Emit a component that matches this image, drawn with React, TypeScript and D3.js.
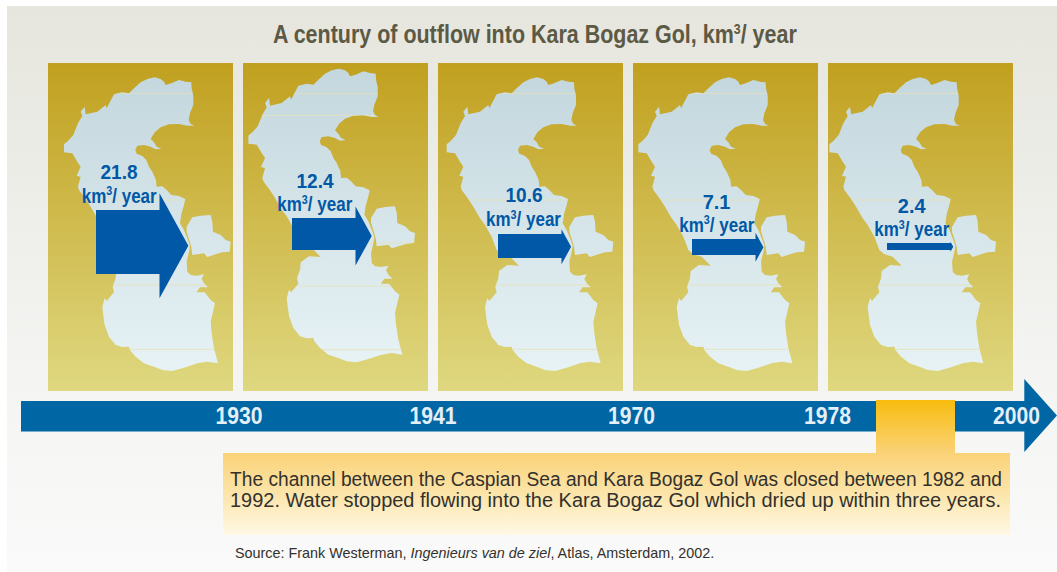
import React from 'react';
import * as d3 from 'd3';

const W = 1057;
const H = 572;

// chart data
const periods = ['1930', '1941', '1970', '1978', '2000'];
const outflow = [21.8, 12.4, 10.6, 7.1, 2.4];
const titleText = 'A century of outflow into Kara Bogaz Gol, km';
const unitText = '/ year';
const noteLines = [
  'The channel between the Caspian Sea and Kara Bogaz Gol was closed between 1982 and',
  '1992. Water stopped flowing into the Kara Bogaz Gol which dried up within three years.',
];
const sourceParts = ['Source: Frank Westerman, ', 'Ingenieurs van de ziel', ', Atlas, Amsterdam, 2002.'];

// arrow size against outflow
const thickness = d3.scaleLinear().domain([2.4, 7.1, 10.6, 12.4, 21.8]).range([7, 16, 24, 32, 64]);
const headSpan = d3.scaleLinear().domain([2.4, 7.1, 10.6, 12.4, 21.8]).range([10, 29, 35, 59, 105]);

const panelX = d3.scaleBand().domain(periods).range([48, 1013]).paddingInner(10 / 195);
const yearX = d3.scaleOrdinal<string, number>().domain(periods).range([239, 433, 631.5, 827.5, 1016.5]);

// per panel placement, relative to panel left / absolute y
const mapShift = [[7.3, 0], [-3.3, -8.7], [0, 0], [-3.3, 0], [-7.3, 0]];
const arrowStart = [48, 49, 60, 59, 59];
const arrowY = [242, 234, 246, 247, 246.5];
const headY = [245.7, 236, 246.8, 247.2, 246.7];
const valueX = [71, 72, 86, 83.5, 83.7];
const valueBase = [179, 188.3, 202.3, 209, 212.7];
const unitX = [33.7, 34.3, 48, 46.3, 46.3];
const unitBase = [202.7, 211, 226, 231.7, 236];
const seaLines = [
  [115, 435, 690, 883],
  [116, 181, 564, 693, 884],
  [115, 435, 690, 883],
  [115, 435, 690, 883],
  [115, 435, 690, 883],
];

// outline traced at 3x, panel 3
const caspian: [number, number][] = [
  [280,82],[300,72],[322,67],[340,72],[350,80],[355,90],[372,85],[395,75],[415,80],[432,82],[433,100],[438,122],[438,150],[428,175],[424,195],[430,207],[441,212],[420,212],[395,207],[365,208],[340,217],[322,232],[310,252],[320,262],[328,275],[342,281],[325,283],[310,275],[290,270],[270,272],[264,285],[268,296],[285,303],[297,315],[305,335],[315,350],[326,375],[328,395],[345,394],[358,405],[372,420],[395,423],[414,432],[410,450],[402,478],[398,505],[410,525],[420,550],[428,572],[425,590],[418,620],[420,650],[430,660],[448,662],[470,658],[463,672],[470,685],[482,697],[458,697],[447,712],[472,712],[490,735],[503,745],[497,770],[490,800],[493,835],[500,880],[512,925],[480,920],[450,925],[410,938],[375,948],[345,945],[320,935],[290,925],[265,905],[248,885],[245,875],[225,876],[205,870],[185,845],[172,810],[168,780],[165,755],[172,730],[178,738],[200,712],[196,695],[205,670],[207,648],[232,630],[267,632],[255,620],[240,605],[215,598],[200,585],[185,545],[165,510],[150,490],[130,455],[115,432],[95,405],[92,395],[100,365],[88,362],[100,335],[90,320],[75,295],[50,292],[50,268],[62,258],[78,240],[92,205],[105,183],[100,170],[112,155],[115,178],[150,170],[175,150],[178,160],[200,118],[225,112],[245,115],[260,100],
];
const karaBogaz: [number, number][] = [
  [418,515],[435,487],[460,482],[490,480],[495,500],[497,530],[520,540],[535,555],[550,560],[547,590],[525,592],[505,598],[480,606],[470,595],[435,600],[432,575],[426,555],[418,530],
];

const outline = d3.line().x(d => (d[0] - 24) / 3).y(d => (d[1] - 24) / 3);
const seaPath = outline(caspian) + 'Z' + outline(karaBogaz) + 'Z';

const panelTop = 63;
const panelH = 328;

const labelFont = '"Liberation Sans", Arial, sans-serif';

// the originals are condensed type, so text gets squeezed to its measured width
const ctx = document.createElement('canvas').getContext('2d')!;
function textWidth(s: string, size: number, style = 'bold') {
  ctx.font = `${style} ${size}px ${labelFont}`;
  return ctx.measureText(s).width;
}

const unitSqueeze = 75 / (textWidth('km', 20.5) + textWidth('3', 13) + textWidth(unitText, 20.5));
const titleSqueeze = 525 / (textWidth(titleText, 26) + textWidth('3', 15) + textWidth(unitText, 26));
const sourceSqueeze = 481 / (textWidth(sourceParts[0], 14, 'normal') + textWidth(sourceParts[1], 14, 'italic') + textWidth(sourceParts[2], 14, 'normal'));

function Panel({ period, i }: { period: string; i: number }) {
  const x0 = panelX(period)!;
  const v = outflow[i];
  const [dx, dy] = mapShift[i];
  const t = thickness(v);
  const span = headSpan(v);
  const cy = arrowY[i];
  const hy = headY[i];
  const sx = x0 + arrowStart[i];
  const neck = sx + 63.5;
  const tip = neck + span * 0.275;
  const arrow = d3.path();
  arrow.moveTo(sx, cy - t / 2);
  arrow.lineTo(neck, cy - t / 2);
  arrow.lineTo(neck, hy - span / 2);
  arrow.lineTo(tip, hy);
  arrow.lineTo(neck, hy + span / 2);
  arrow.lineTo(neck, cy + t / 2);
  arrow.lineTo(sx, cy + t / 2);
  arrow.closePath();

  return (
    <g>
      <rect x={x0} y={panelTop} width={panelX.bandwidth()} height={panelH} fill="url(#land)" />
      <clipPath id={`sea${i}`}>
        <path d={seaPath} transform={`translate(${x0 + dx},${panelTop + dy})`} />
      </clipPath>
      <path d={seaPath} transform={`translate(${x0 + dx},${panelTop + dy})`} fill="url(#water)" />
      <g clipPath={`url(#sea${i})`}>
        {seaLines[i].map(l => {
          const y = 55 + l / 3;
          return <line key={l} x1={x0} x2={x0 + 185} y1={y} y2={y} stroke="#e6e2b4" strokeWidth={0.8} />;
        })}
      </g>
      <path d={arrow.toString()} fill="#0058a6" />
      <text x={x0 + valueX[i]} y={valueBase[i]} textAnchor="middle" textLength={String(v).length * 9.25} lengthAdjust="spacingAndGlyphs" fontFamily={labelFont} fontWeight="bold" fontSize={21} fill="#0058a6">
        {v}
      </text>
      <text transform={`translate(${x0 + unitX[i]},${unitBase[i]}) scale(${unitSqueeze},1)`} fontFamily={labelFont} fontWeight="bold" fontSize={20.5} fill="#0058a6">
        km<tspan dy={-7.5} fontSize={13}>3</tspan><tspan dy={7.5}>{unitText}</tspan>
      </text>
    </g>
  );
}

export default function App() {
  return (
    <svg width={W} height={H} style={{ position: 'absolute', left: 0, top: 0 }}>
      <defs>
        <linearGradient id="page" x1="0" x2="0" y1="0" y2="1">
          <stop offset="0" stopColor="#e6e6de" />
          <stop offset="0.6" stopColor="#f3f3f1" />
          <stop offset="1" stopColor="#fafafa" />
        </linearGradient>
        <linearGradient id="land" x1="0" x2="0" y1="0" y2="1">
          <stop offset="0" stopColor="#c1a01f" />
          <stop offset="1" stopColor="#dfd880" />
        </linearGradient>
        <linearGradient id="water" gradientUnits="userSpaceOnUse" x1="0" x2="0" y1="0" y2="328">
          <stop offset="0" stopColor="#c2d6dd" />
          <stop offset="1" stopColor="#e9f4f6" />
        </linearGradient>
        <linearGradient id="note" gradientUnits="userSpaceOnUse" x1="0" x2="0" y1="400" y2="535">
          <stop offset="0" stopColor="#f8bd0e" />
          <stop offset="0.39" stopColor="#fad277" />
          <stop offset="0.7" stopColor="#fce5ab" />
          <stop offset="1" stopColor="#fff9e6" />
        </linearGradient>
      </defs>

      <rect x={7} y={6} width={W - 7} height={H - 6} fill="url(#page)" />

      <text transform={`translate(273,43) scale(${titleSqueeze},1)`} fontFamily={labelFont} fontWeight="bold" fontSize={26} fill="#5c5a45">
        {titleText}<tspan dy={-9} fontSize={15}>3</tspan><tspan dy={9}>{unitText}</tspan>
      </text>

      {periods.map((p, i) => <Panel key={p} period={p} i={i} />)}

      <path d="M21,401H1024.3V379L1057,415.5L1024.3,452V431.5H21Z" fill="#0066a4" />
      <path d="M876,400H955V453H1010V535H223V453H876Z" fill="url(#note)" />

      {periods.map(p => (
        <text key={p} x={yearX(p)} y={424} textAnchor="middle" textLength={47} lengthAdjust="spacingAndGlyphs" fontFamily={labelFont} fontWeight="bold" fontSize={23} fill="#e4eff8">
          {p}
        </text>
      ))}

      {noteLines.map((line, i) => (
        <text key={i} x={230} y={485.7 + i * 21} textLength={i === 0 ? 772 : 771} lengthAdjust="spacingAndGlyphs" fontFamily={labelFont} fontSize={19.5} fill="#33312c">
          {line}
        </text>
      ))}

      <text transform={`translate(235,557.5) scale(${sourceSqueeze},1)`} fontFamily={labelFont} fontSize={14} fill="#33312c" style={{ whiteSpace: 'pre' }}>
        {sourceParts[0]}<tspan fontStyle="italic">{sourceParts[1]}</tspan>{sourceParts[2]}
      </text>
    </svg>
  );
}
